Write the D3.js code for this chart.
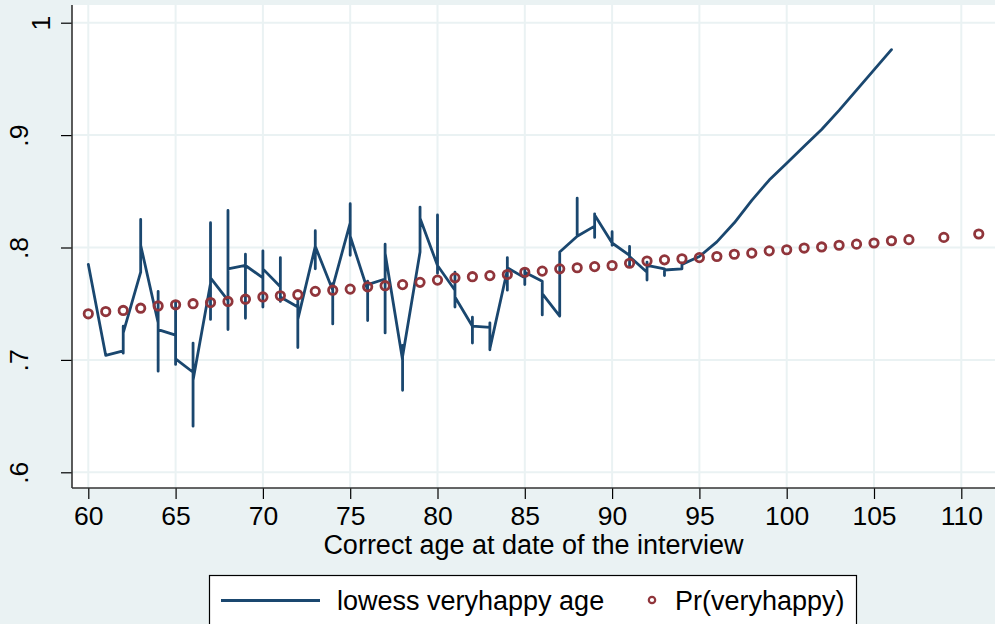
<!DOCTYPE html>
<html>
<head>
<meta charset="utf-8">
<script src="https://cdn.jsdelivr.net/npm/d3@7"></script>
<style>
  html, body { margin: 0; padding: 0; background: #eaf2f3; }
  svg { display: block; font-family: "Liberation Sans", Arial, sans-serif; }
</style>
</head>
<body>
<svg id="chart" width="995" height="624"></svg>
<script>
// ---------------- data ----------------
const xTicks = [60, 65, 70, 75, 80, 85, 90, 95, 100, 105, 110];
const yTicks = [0.6, 0.7, 0.8, 0.9, 1.0];
const yTickLabels = [".6", ".7", ".8", ".9", "1"];
const xTitle = "Correct age at date of the interview";
const seriesNames = ["lowess veryhappy age", "Pr(veryhappy)"];

// lowess veryhappy age (path in data order; ties at an age give vertical runs)
const lowessAge = [
  60, 61,
  62, 62, 62, 62,
  63, 63, 63,
  64, 64, 64, 64,
  65, 65, 65, 65,
  66, 66, 66, 66,
  67, 67, 67, 67,
  68, 68, 68, 68,
  69, 69, 69, 69,
  70, 70, 70, 70,
  71, 71, 71, 71,
  72, 72, 72, 72,
  73, 73, 73, 73,
  74, 74, 74, 74,
  75, 75, 75, 75,
  76, 76, 76, 76,
  77, 77, 77, 77,
  78, 78, 78, 78,
  79, 79, 79,
  80, 80, 80, 80,
  81, 81, 81, 81,
  82, 82, 82, 82,
  83, 83, 83, 83,
  84, 84, 84, 84,
  85, 85, 85, 85,
  86, 86, 86,
  87, 87,
  88, 88, 88,
  89, 89, 89, 89,
  90, 90, 90, 90,
  91, 91, 91, 91,
  92, 92, 92, 92,
  93, 93, 93,
  94, 94, 94,
  95, 96, 97, 98, 99, 100, 101, 102, 103, 104, 105, 106
];
const lowessFit = [
  .785, .704,
  .708, .706, .730, .724,
  .778, .825, .802,
  .733, .761, .690, .727,
  .722, .751, .696, .701,
  .689, .715, .641, .682,
  .768, .822, .736, .773,
  .753, .833, .727, .781,
  .784, .794, .737, .784,
  .773, .797, .747, .781,
  .765, .791, .752, .756,
  .747, .753, .711, .736,
  .801, .815, .781, .801,
  .762, .768, .732, .765,
  .822, .839, .793, .810,
  .762, .770, .735, .767,
  .772, .803, .724, .795,
  .700, .713, .673, .703,
  .796, .836, .826,
  .784, .829, .777, .784,
  .762, .778, .747, .756,
  .730, .738, .715, .730,
  .729, .733, .709, .710,
  .780, .791, .762, .782,
  .773, .780, .767, .778,
  .770, .740, .759,
  .739, .796,
  .810, .844, .810,
  .819, .809, .830, .829,
  .804, .814, .802, .804,
  .793, .801, .783, .792,
  .778, .787, .771, .784,
  .781, .775, .780,
  .781, .786, .785,
  .792, .805, .822, .842, .860, .875, .890, .905, .922, .940, .958, .976
];

// Pr(veryhappy)
const prAge = [60,61,62,63,64,65,66,67,68,69,70,71,72,73,74,75,76,77,78,79,
               80,81,82,83,84,85,86,87,88,89,90,91,92,93,94,95,96,97,98,99,
               100,101,102,103,104,105,106,107,109,111];
const prValue = [.741,.743,.744,.746,.748,.749,.750,.751,.752,.754,
                 .756,.757,.758,.761,.762,.763,.765,.766,.767,.769,
                 .771,.773,.774,.775,.776,.778,.779,.781,.782,.783,
                 .784,.786,.788,.789,.790,.791,.792,.794,.795,.797,
                 .798,.7995,.8005,.802,.803,.804,.806,.807,.809,.812];

// ---------------- layout ----------------
const W = 995, H = 624;
const plot = { left: 72, right: 995, top: 5, bottom: 488 };
const lineColor = "#1a476f";
const markColor = "#90353b";
const bg = "#eaf2f3";
const tickFont = 26.5;
const textFont = 27;

const x = d3.scaleLinear().domain([60, 110]).range([88.3, 961.3]);
const y = d3.scaleLinear().domain([0.6, 1.0]).range([472.3, 22.7]);

const svg = d3.select("#chart");
svg.append("rect").attr("width", W).attr("height", H).attr("fill", bg);

// plot region
svg.append("rect")
  .attr("x", plot.left).attr("y", plot.top)
  .attr("width", plot.right - plot.left).attr("height", plot.bottom - plot.top)
  .attr("fill", "#ffffff");

// gridlines
const grid = svg.append("g");
grid.selectAll("line.vx").data(xTicks).join("line")
  .attr("x1", d => x(d)).attr("x2", d => x(d))
  .attr("y1", plot.top).attr("y2", plot.bottom)
  .attr("stroke", bg).attr("stroke-width", 2);
grid.selectAll("line.hy").data(yTicks).join("line")
  .attr("y1", d => y(d)).attr("y2", d => y(d))
  .attr("x1", plot.left).attr("x2", plot.right)
  .attr("stroke", bg).attr("stroke-width", 2);

// lowess line
const pts = lowessAge.map((a, i) => [a, lowessFit[i]]);
svg.append("path")
  .datum(pts)
  .attr("d", d3.line().x(d => x(d[0])).y(d => y(d[1])))
  .attr("fill", "none")
  .attr("stroke", lineColor)
  .attr("stroke-width", 2.8)
  .attr("stroke-linejoin", "round")
  .attr("stroke-linecap", "round");

// Pr markers
svg.append("g").selectAll("circle").data(prAge).join("circle")
  .attr("cx", d => x(d))
  .attr("cy", (d, i) => y(prValue[i]))
  .attr("r", 4.2)
  .attr("fill", "none")
  .attr("stroke", markColor)
  .attr("stroke-width", 2.8);

// x axis
const xAxis = d3.axisBottom(x).tickValues(xTicks).tickSize(11).tickPadding(7).tickFormat(d3.format("d"));
const gx = svg.append("g").attr("transform", `translate(0,${plot.bottom})`).call(xAxis);
gx.select(".domain").remove();
gx.selectAll(".tick line").attr("stroke", "#000").attr("stroke-width", 1.2);
gx.selectAll(".tick text").attr("font-size", tickFont).attr("fill", "#000")
  .attr("font-family", "Liberation Sans, Arial, sans-serif");
svg.append("line")
  .attr("x1", plot.left).attr("x2", plot.right)
  .attr("y1", plot.bottom).attr("y2", plot.bottom)
  .attr("stroke", "#333").attr("stroke-width", 1.6);

// y axis
const yAxis = d3.axisLeft(y).tickValues(yTicks).tickSize(11).tickFormat((d, i) => yTickLabels[i]);
const gy = svg.append("g").attr("transform", `translate(${plot.left},0)`).call(yAxis);
gy.select(".domain").remove();
gy.selectAll(".tick line").attr("stroke", "#000").attr("stroke-width", 1.2);
gy.selectAll(".tick text")
  .attr("font-size", tickFont).attr("fill", "#000")
  .attr("font-family", "Liberation Sans, Arial, sans-serif")
  .attr("text-anchor", "middle")
  .attr("dy", null)
  .attr("x", null)
  .attr("transform", (d, i) => `translate(${yTickLabels[i].length === 1 ? -22 : -44},0) rotate(-90)`);
svg.append("line")
  .attr("x1", plot.left).attr("x2", plot.left)
  .attr("y1", plot.top).attr("y2", plot.bottom)
  .attr("stroke", "#333").attr("stroke-width", 1.6);

// x title
svg.append("text")
  .attr("x", (plot.left + plot.right) / 2).attr("y", 554)
  .attr("text-anchor", "middle")
  .attr("font-size", textFont).attr("fill", "#000")
  .text(xTitle);

// legend
const lg = svg.append("g");
lg.append("rect")
  .attr("x", 209.5).attr("y", 575.5).attr("width", 647).attr("height", 60)
  .attr("fill", "#fff").attr("stroke", "#000").attr("stroke-width", 1.2);
lg.append("line")
  .attr("x1", 221).attr("x2", 320).attr("y1", 600.5).attr("y2", 600.5)
  .attr("stroke", lineColor).attr("stroke-width", 2.8);
lg.append("text").attr("x", 337).attr("y", 610)
  .attr("font-size", textFont).attr("fill", "#000").text(seriesNames[0]);
lg.append("circle").attr("cx", 652).attr("cy", 600).attr("r", 3.2)
  .attr("fill", "none").attr("stroke", markColor).attr("stroke-width", 2.2);
lg.append("text").attr("x", 675).attr("y", 610)
  .attr("font-size", textFont).attr("fill", "#000").text(seriesNames[1]);
</script>
</body>
</html>
